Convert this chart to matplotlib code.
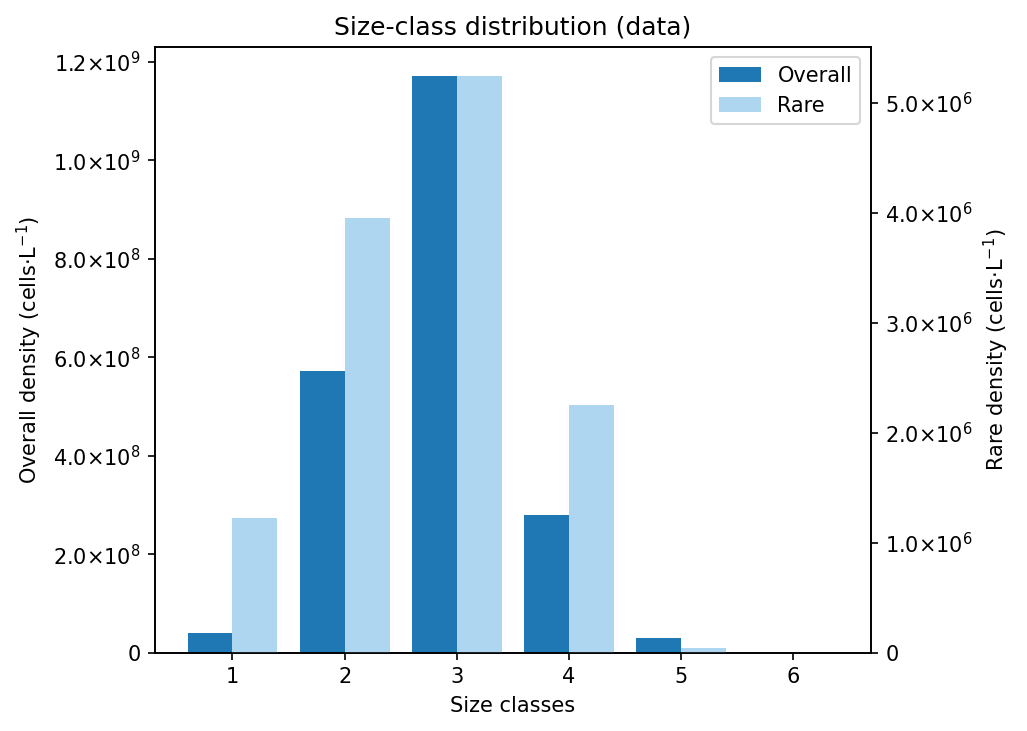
import matplotlib
matplotlib.use("Agg")
import matplotlib.pyplot as plt
import numpy as np
from matplotlib.ticker import FuncFormatter

# data
size_classes = np.array([1, 2, 3, 4, 5, 6])
overall = np.array([4.0e7, 5.72e8, 1.172e9, 2.8e8, 3.0e7, 0.0])
rare = np.array([1.225e6, 3.95e6, 5.245e6, 2.25e6, 4.5e4, 0.0])


def sci(v, pos):
    if v == 0:
        return "0"
    exp = int(np.floor(np.log10(abs(v))))
    mant = v / 10**exp
    return "{:.1f}×10$^{{{}}}$".format(mant, exp)


fig = plt.figure(figsize=(1027 / 150, 731 / 150), dpi=150)
ax = fig.add_axes([0.151, 0.107, 0.697, 0.829])
ax2 = ax.twinx()

w = 0.4
b1 = ax.bar(size_classes - w / 2, overall, w, color="#1f77b4", label="Overall")
b2 = ax2.bar(size_classes + w / 2, rare, w, color="#aed6f1", label="Rare")

ax.set_xticks(size_classes)
ax.yaxis.set_major_formatter(FuncFormatter(sci))
ax2.yaxis.set_major_formatter(FuncFormatter(sci))
ax.set_xlabel("Size classes")
ax.set_ylabel(r"Overall density (cells$\cdot$L$^{-1}$)")
ax2.set_ylabel(r"Rare density (cells$\cdot$L$^{-1}$)")
ax.set_title("Size-class distribution (data)")

ax2.legend([b1, b2], ["Overall", "Rare"], loc="upper right")

fig.savefig("out.png", dpi=150)
